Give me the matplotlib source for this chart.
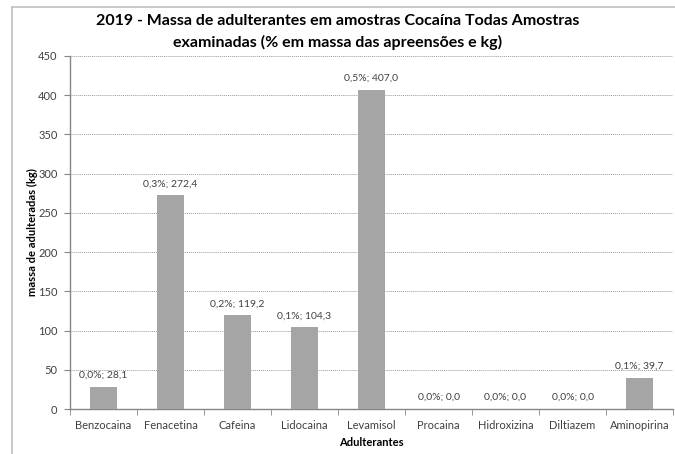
import matplotlib
matplotlib.use("Agg")
import matplotlib.pyplot as plt
import numpy as np
from matplotlib.lines import Line2D

# --- Data ---
categories = ['Benzocaina', 'Fenacetina', 'Cafeina', 'Lidocaina', 'Levamisol',
              'Procaina', 'Hidroxizina', 'Diltiazem', 'Aminopirina']
mass_kg = [28.1, 272.4, 119.2, 104.3, 407.0, 0.0, 0.0, 0.0, 39.7]
pct_mass = [0.0, 0.3, 0.2, 0.1, 0.5, 0.0, 0.0, 0.0, 0.1]
y_ticks = [0, 50, 100, 150, 200, 250, 300, 350, 400, 450]

plt.rcParams['font.family'] = ['Lato', 'DejaVu Sans']

BAR_COLOR = '#a5a5a5'
AXIS_COLOR = '#868686'
TEXT_COLOR = '#404040'

fig = plt.figure(figsize=(6.75, 4.54), dpi=100)
ax = fig.add_axes([70 / 675, 45 / 454, 603 / 675, 353 / 454])

x = np.arange(len(categories))
ax.bar(x, mass_kg, width=0.4, color=BAR_COLOR, zorder=3)

# data labels "pct%; value"
for xi, v, p in zip(x, mass_kg, pct_mass):
    label = f"{p:.1f}%; {v:.1f}".replace('.', ',')
    ax.annotate(label, (xi, v), xytext=(0, 5), textcoords='offset points',
                ha='center', va='bottom', fontsize=7.5, color=TEXT_COLOR, zorder=4)

ax.set_xlim(-0.5, len(categories) - 0.5)
ax.set_ylim(0, 450)
ax.set_yticks(y_ticks)
ax.set_xticks(x)
ax.set_xticklabels(categories)
ax.set_xticks(np.arange(len(categories) + 1) - 0.5, minor=True)

ax.tick_params(axis='x', which='major', length=0, labelsize=8, pad=8, colors=TEXT_COLOR)
ax.tick_params(axis='x', which='minor', length=4, direction='out', color=AXIS_COLOR)
ax.tick_params(axis='y', length=4, direction='out', color=AXIS_COLOR, labelsize=8,
               labelcolor=TEXT_COLOR, pad=5)

ax.yaxis.grid(True, linestyle=(0, (1, 1)), color='#9a9a9a', linewidth=0.7, zorder=0)
ax.set_axisbelow(True)

for side in ['top', 'right']:
    ax.spines[side].set_visible(False)
for side in ['left', 'bottom']:
    ax.spines[side].set_color(AXIS_COLOR)
    ax.spines[side].set_linewidth(1.0)

ax.set_xlabel('Adulterantes', fontsize=8, fontweight='bold', color='black', labelpad=4)
ax.set_ylabel('massa de adulteradas (kg)', fontsize=8, fontweight='bold', color='black',
              labelpad=0)

fig.text(0.5, 1 - 32 / 454,
         '2019 - Massa de adulterantes em amostras Cocaína Todas Amostras\n'
         'examinadas (% em massa das apreensões e kg)',
         ha='center', va='center', fontsize=11.5, fontweight='bold', color='black',
         linespacing=1.5)

# chart border (left and top visible in the crop)
fig.add_artist(Line2D([12 / 675, 12 / 675], [0, 1 - 7 / 454], color='#bfbfbf', linewidth=1.2))
fig.add_artist(Line2D([12 / 675, 1], [1 - 7 / 454, 1 - 7 / 454], color='#bfbfbf', linewidth=1.2))

fig.savefig('out.png', dpi=100)
